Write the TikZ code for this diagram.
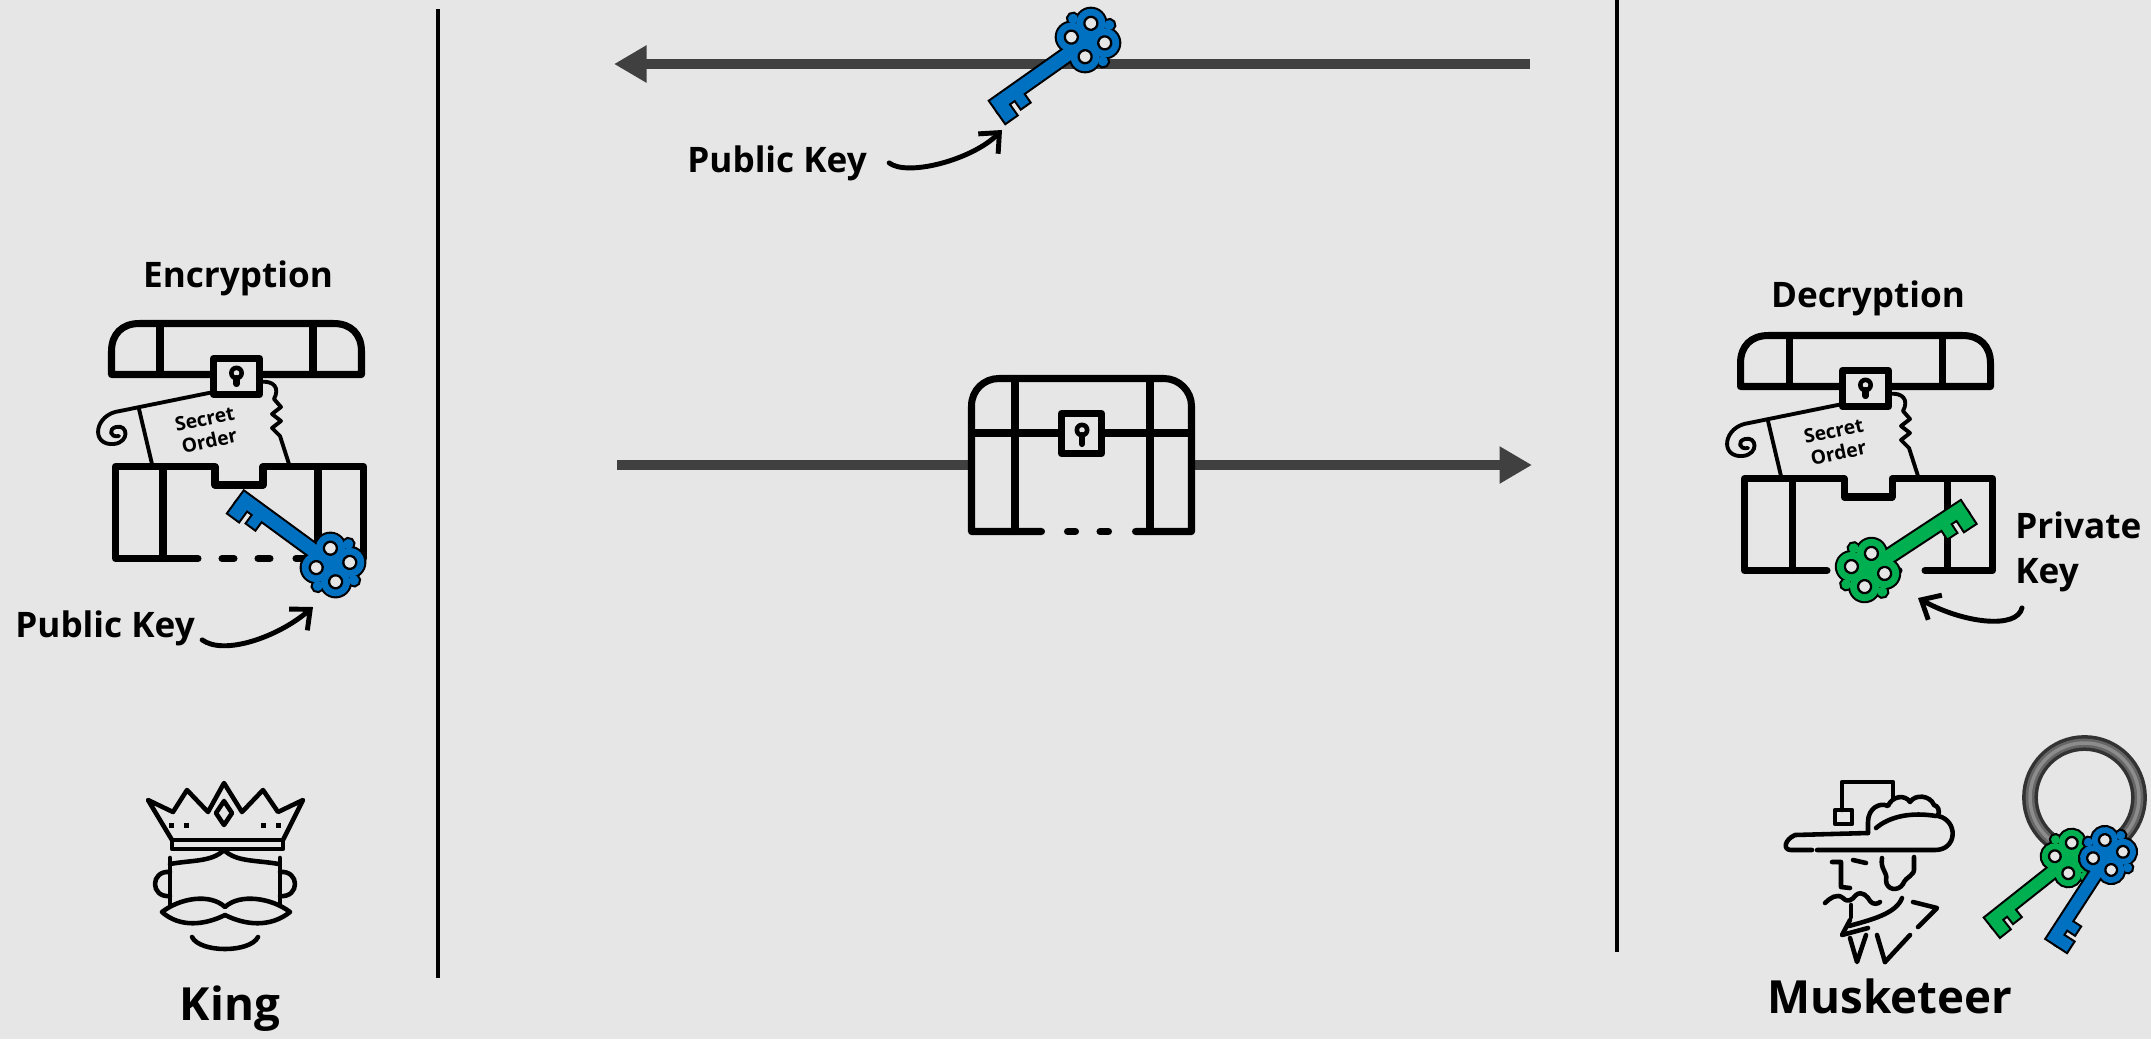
\documentclass[tikz,border=0pt]{standalone}
\usepackage{fontspec}
\setmainfont{Open Sans}
\usetikzlibrary{arrows.meta, positioning}

\definecolor{paper}{HTML}{E6E6E6}
\definecolor{flowgray}{HTML}{404040}
\definecolor{keyblue}{HTML}{0070C0}
\definecolor{keygreen}{HTML}{00B050}

% one key, head at the origin, shaft along +x, teeth on the -y side
\newcommand\keybits[1]{%
  \foreach \p/\q in {12/12,12/-12,-12/12,-12/-12}
    \path[#1] (\p,\q) circle[radius=14.5];
  \path[#1] (0,0) circle[radius=17];
  \foreach \p/\q in {0/26,0/-26,-26/0}
    \path[#1] (\p,\q) circle[radius=5];
  \path[#1] (12,-6.5) rectangle (115,6.5);
  \path[#1] (102,-6) rectangle (115,-20);
  \path[#1] (84,-6) rectangle (94,-17);
}

\tikzset{
  icon/.style={line width=4pt, line cap=round, line join=round},
  thin icon/.style={line width=2.6pt, line cap=round, line join=round},
  scroll/.style={line width=2.2pt, line cap=round, line join=round},
  flow/.style={line width=6.2pt, draw=flowgray, -{Triangle[length=18.5pt, width=20pt]}},
  callout/.style={line width=2.8pt, line cap=round, -{Straight Barb[length=9pt, width=16pt]}},
  label/.style={font=\bfseries\fontsize{20}{24}\selectfont, inner sep=0pt},
  title/.style={font=\bfseries\fontsize{26}{30}\selectfont, inner sep=0pt},
  memo/.style={font=\bfseries\fontsize{11}{13}\selectfont, align=center, rotate=12, inner sep=0pt},
  pics/key/.style={code={
    \keybits{fill=black, draw=black, line width=2.4pt}
    \keybits{fill=#1}
    \foreach \p/\q in {12/12,12/-12,-12/12,-12/-12}
      \filldraw[fill=paper, draw=black, line width=1.3pt] (\p,\q) circle[radius=6.5];
  }},
  pics/openchest/.style={code={
    % lid
    \draw[icon] (105.5,54.5) -- (3.5,54.5) -- (3.5,31.5)
      .. controls (3.5,14) and (14,3.5) .. (31.5,3.5) -- (225.5,3.5)
      .. controls (243,3.5) and (253.5,14) .. (253.5,31.5) -- (253.5,54.5) -- (151.5,54.5);
    \draw[icon] (52,3.5) -- (52,54.5) (205,3.5) -- (205,54.5);
    % lock
    \draw[icon] (105.5,38.5) rectangle (151.5,74.5);
    \fill (128.5,53) circle[radius=7.5];
    \fill[paper] (128.5,53) circle[radius=2.8];
    \draw[line width=3.5pt, line cap=round] (128.5,58) -- (128.5,64);
    % scroll
    \draw[scroll] (105.5,72) -- (12,91) .. controls (-14,94) and (-18,126) .. (6,124)
      .. controls (22,122) and (20,104) .. (8,107) .. controls (0,109) and (2,118) .. (11,116);
    \draw[scroll] (31,89) -- (44,144);
    \draw[scroll] (151.5,62) .. controls (166,60) and (172,68) .. (166,79)
      -- (173,87) -- (164,94) -- (173,101) -- (164,108) -- (172,116) -- (181,144);
    \node[memo] (-memo) at (99,110) {Secret\\Order};
    % box
    \draw[icon] (90,238.5) -- (7.5,238.5) -- (7.5,146.5) -- (107,146.5) -- (107,165)
      -- (155,165) -- (155,146.5) -- (255.5,146.5) -- (255.5,238.5) -- (188,238.5);
    \draw[icon] (55,146.5) -- (55,238.5) (210,146.5) -- (210,238.5);
    \draw[icon] (114,238.5) -- (126,238.5) (150,238.5) -- (162,238.5);
  }}
}

\begin{document}
\begin{tikzpicture}[x=0.02cm, y=-0.02cm]
\fill[paper] (0,0) rectangle (2151,1039);
\useasboundingbox (0,0) rectangle (2151,1039);

% separators
\draw[line width=2.3pt] (438,9) -- (438,978);
\draw[line width=2.3pt] (1617,0) -- (1617,952);

% key going back, chest going over
\coordinate (backstart) at (1530,64);
\coordinate (backend) at (614,64);
\draw[flow] (backstart) -- (backend);
\coordinate (sendstart) at (617,465);
\coordinate (sendend) at (1532,465);
\draw[flow] (sendstart) -- (sendend);

% closed chest
\fill[paper] (971.5,531.5) -- (971.5,406) .. controls (971.5,390) and (984,378.5) .. (999,378.5)
  -- (1164,378.5) .. controls (1179,378.5) and (1191.5,391) .. (1191.5,406) -- (1191.5,531.5) -- cycle;
\draw[icon] (1041.5,531.5) -- (971.5,531.5) -- (971.5,406)
  .. controls (971.5,390) and (984,378.5) .. (999,378.5) -- (1164,378.5)
  .. controls (1179,378.5) and (1191.5,391) .. (1191.5,406) -- (1191.5,531.5) -- (1135.5,531.5);
\draw[icon] (971.5,433) -- (1061.5,433) (1101.5,433) -- (1191.5,433);
\draw[icon] (1015,378.5) -- (1015,531.5) (1150,378.5) -- (1150,531.5);
\draw[icon] (1067.5,531.5) -- (1075.5,531.5) (1100,531.5) -- (1108.5,531.5);
\draw[icon] (1061.5,413.5) rectangle (1101.5,453.5);
\fill (1082,430) circle[radius=7.5];
\fill[paper] (1082,430) circle[radius=2.8];
\draw[line width=3.5pt, line cap=round] (1082,435) -- (1082,444);

\pic[rotate=215.2] (sentkey) at (1088,40) {key=keyblue};
\node[label, anchor=base west] (pubtop) at (687,172) {Public Key};
\coordinate (sentkeytip) at (1002,130);
\draw[callout] ([shift={(22,0)}]pubtop.east) .. controls +(18,14) and +(-30,30) .. (sentkeytip);

% king side
\node[label, anchor=base] (enclabel) at (238,287) {Encryption};
\pic (enc) at (108,320) {openchest};
\pic[rotate=143.8] (kingkey) at (333,565) {key=keyblue};
\node[label, anchor=base west] (publeft) at (15,637) {Public Key};
\coordinate (kingkeytip) at (313,607);
\draw[callout] ([shift={(7,12)}]publeft.east) .. controls +(22,16) and +(-35,30) .. (kingkeytip);

% crown
\draw[thin icon] (172,840) -- (148,800) -- (173,812) -- (187,790) -- (208,812) -- (224,783)
  -- (242,812) -- (263,790) -- (278,812) -- (303,800) -- (283,840);
\draw[thin icon] (172,840) rectangle (283,849);
\draw[thin icon] (224,801) -- (232,813) -- (224,825) -- (216,813) -- cycle;
\foreach \x in {171,186,263,278}
  \fill ({\x-2.5},822.5) rectangle +(5,5);
% face
\draw[thin icon] (224,850) .. controls (212,862) and (192,860) .. (170,864);
\draw[thin icon] (224,850) .. controls (236,862) and (256,860) .. (279,864);
\draw[thin icon] (170,858) -- (170,905) (280,858) -- (280,905);
\draw[thin icon] (170,872) .. controls (150,870) and (150,898) .. (170,896);
\draw[thin icon] (280,872) .. controls (300,870) and (300,898) .. (280,896);
\draw[thin icon] (162,912) .. controls (180,898) and (210,893) .. (225,907)
  .. controls (240,893) and (272,898) .. (290,912)
  .. controls (270,928) and (245,925) .. (225,915)
  .. controls (205,925) and (180,928) .. (162,912) -- cycle;
\draw[thin icon] (192,937) .. controls (200,953) and (250,953) .. (258,937);
\node[title, anchor=base] (kingname) at (230,1020) {King};

% musketeer side
\node[label, anchor=base] (declabel) at (1868,307) {Decryption};
\pic (dec) at (1737,332) {openchest};
\pic[rotate=33.3, yscale=-1] (privkey) at (1868,570) {key=keygreen};
\node[label, anchor=base west] (privword) at (2015,538) {Private};
\node[label, anchor=base west] (privkeyword) at (2015,583) {Key};
\coordinate (privkeytip) at (1918,598);
\draw[callout] ([shift={(7,16)}]privkeyword.south west) .. controls +(-5,22) and +(45,25) .. (privkeytip);

% hat
\draw[thin icon] (1842,810) -- (1842,782) -- (1893,782) -- (1893,797);
\draw[thin icon] (1835,810) rectangle (1852,824);
\draw[thin icon] (1812,850) -- (1791,850) .. controls (1783,850) and (1784,840) .. (1795,835) -- (1868,833);
\draw[thin icon] (1817,850) -- (1935,850) .. controls (1958,850) and (1958,820) .. (1938,816)
  .. controls (1940,810) and (1938,806) .. (1934,805)
  .. controls (1930,795) and (1915,794) .. (1910,802)
  .. controls (1905,794) and (1892,796) .. (1888,806)
  .. controls (1880,802) and (1868,808) .. (1868,822) -- (1868,833);
\draw[thin icon] (1876,828) .. controls (1890,816) and (1912,812) .. (1936,816);
% face
\draw[thin icon] (1832,862) -- (1841,862) -- (1841,887) -- (1850,888);
\draw[thin icon] (1853,860) -- (1866,863);
\draw[thin icon] (1882,858) .. controls (1880,870) and (1888,872) .. (1886,880)
  .. controls (1886,890) and (1898,892) .. (1903,884)
  .. controls (1906,876) and (1915,876) .. (1914,868) -- (1914,857);
\draw[thin icon] (1825,903) .. controls (1830,898) and (1837,893) .. (1843,898)
  .. controls (1848,903) and (1852,900) .. (1856,895)
  .. controls (1862,890) and (1868,897) .. (1870,901)
  .. controls (1873,905) and (1878,904) .. (1880,902);
\draw[thin icon] (1851,905) -- (1851,917);
\draw[thin icon] (1849,926) .. controls (1870,920) and (1896,914) .. (1902,898);
\draw[thin icon] (1850,920) -- (1842,935) -- (1868,928);
\draw[thin icon] (1913,902) -- (1937,908) -- (1918,927) (1910,935) -- (1885,962);
\draw[thin icon] (1850,938) -- (1857,962) -- (1866,935) (1877,935) -- (1885,962);
\node[title, anchor=base] (musketname) at (1890,1013) {Musketeer};

% key ring
\draw[line width=9pt, black!80] (2084.5,797.5) ellipse[x radius=54.5, y radius=54.5];
\draw[line width=5pt, black!60] (2084.5,797.5) ellipse[x radius=54.5, y radius=54.5];
\draw[line width=2pt, black!45] (2084.5,797.5) ellipse[x radius=54.5, y radius=54.5];
\pic[rotate=218.4, scale=0.9] (ringgreen) at (2070,858) {key=keygreen};
\pic[rotate=237, scale=0.9] (ringblue) at (2108,855) {key=keyblue};

\end{tikzpicture}
\end{document}
